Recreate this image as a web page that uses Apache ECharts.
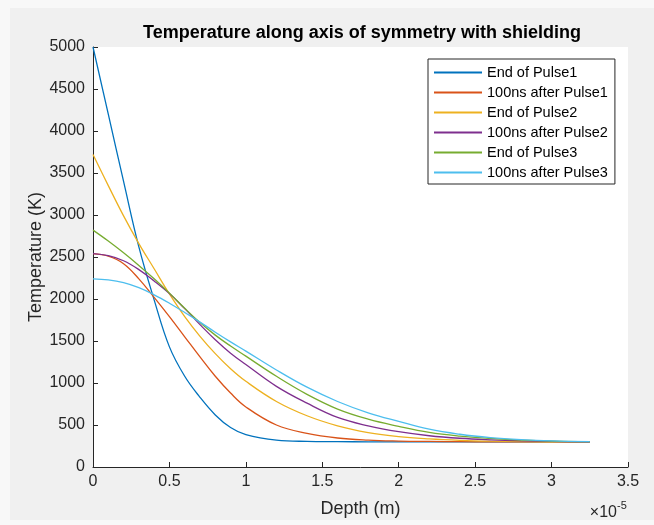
<!DOCTYPE html>
<html>
<head>
<meta charset="utf-8">
<script src="https://cdn.jsdelivr.net/npm/echarts@6/dist/echarts.min.js"></script>
<style>
  html, body { margin: 0; padding: 0; background: #f8f8f8; }
  #chart { width: 654px; height: 525px; }
</style>
</head>
<body>
<div id="chart"></div>
<script>
// depth in units of 1e-5 m
const depth = [0, 0.1, 0.2, 0.3, 0.4, 0.5, 0.6, 0.7, 0.8, 0.9, 1.0, 1.2, 1.4, 1.6, 1.8, 2.0, 2.2, 2.4, 2.6, 2.8, 3.0, 3.25];

const endPulse1 = [5000, 4200, 3400, 2620, 1990, 1430, 1080, 830, 620, 470, 385, 320, 305, 302, 300, 300, 300, 300, 300, 300, 300, 300];
const afterPulse1 = [2540, 2510, 2420, 2240, 2020, 1790, 1550, 1310, 1080, 880, 715, 500, 400, 345, 320, 309, 304, 301, 300, 300, 300, 300];
const endPulse2 = [3720, 3350, 2990, 2660, 2360, 2060, 1790, 1556, 1350, 1170, 1020, 780, 610, 490, 410, 362, 335, 318, 308, 303, 300, 300];
const afterPulse2 = [2540, 2515, 2455, 2350, 2215, 2065, 1885, 1695, 1515, 1355, 1220, 960, 760, 590, 490, 420, 372, 342, 324, 312, 305, 300];
const endPulse3 = [2820, 2690, 2550, 2400, 2240, 2070, 1890, 1720, 1570, 1440, 1320, 1080, 865, 690, 570, 484, 412, 368, 340, 320, 308, 302];
const afterPulse3 = [2240, 2228, 2195, 2135, 2050, 1950, 1840, 1725, 1605, 1490, 1380, 1155, 950, 780, 645, 543, 450, 390, 350, 325, 310, 302];

const seriesNames = ['End of Pulse1', '100ns after Pulse1', 'End of Pulse2', '100ns after Pulse2', 'End of Pulse3', '100ns after Pulse3'];
const seriesValues = [endPulse1, afterPulse1, endPulse2, afterPulse2, endPulse3, afterPulse3];
const colors = ['#0072BD', '#D95319', '#EDB120', '#7E2F8E', '#77AC30', '#4DBEEE'];

const FONT = '"Liberation Sans", Arial, Helvetica, sans-serif';
const INK = '#262626';

const chart = echarts.init(document.getElementById('chart'));

const series = seriesNames.map((name, i) => ({
  name: name,
  type: 'line',
  data: depth.map((d, j) => [d, seriesValues[i][j]]),
  symbol: 'none',
  smooth: 0.4,
  lineStyle: { width: 1.3, color: colors[i] },
  itemStyle: { color: colors[i] },
  emphasis: { disabled: true }
}));

chart.setOption({
  animation: false,
  backgroundColor: '#f8f8f8',
  textStyle: { fontFamily: FONT },
  graphic: [
    { type: 'rect', z: -20, silent: true, shape: { x: 10, y: 8, width: 644, height: 512 }, style: { fill: '#f0f0f0' } },
    { type: 'rect', z: -10, silent: true, shape: { x: 93, y: 47, width: 535, height: 420 }, style: { fill: '#ffffff' } },
    { type: 'text', x: 362, y: 33, style: { text: 'Temperature along axis of symmetry with shielding', font: 'bold 18px ' + FONT, fill: '#000', align: 'center', verticalAlign: 'middle' } },
    { type: 'text', x: 617, y: 513, style: { text: '\u00d710', font: '16px ' + FONT, fill: INK, align: 'right', verticalAlign: 'middle' } },
    { type: 'text', x: 617, y: 506, style: { text: '-5', font: '11px ' + FONT, fill: INK, align: 'left', verticalAlign: 'middle' } }
  ],
  grid: { left: 93, top: 47, width: 535, height: 420, containLabel: false },
  legend: {
    orient: 'vertical',
    left: 428,
    top: 59,
    padding: [6, 7, 4, 5],
    itemWidth: 48,
    itemHeight: 14,
    itemGap: 5,
    itemStyle: { opacity: 0 },
    backgroundColor: '#ffffff',
    borderColor: INK,
    borderWidth: 1,
    borderRadius: 0,
    selectedMode: false,
    textStyle: { fontSize: 14.5, color: '#000', fontFamily: FONT },
    data: seriesNames
  },
  xAxis: {
    type: 'value',
    min: 0,
    max: 3.5,
    interval: 0.5,
    name: 'Depth (m)',
    nameLocation: 'middle',
    nameGap: 33,
    nameTextStyle: { fontSize: 18, color: INK, fontFamily: FONT },
    axisLine: { show: true, onZero: false, lineStyle: { color: INK, width: 1 } },
    axisTick: { show: true, inside: true, length: 5, lineStyle: { color: INK } },
    axisLabel: { fontSize: 16, color: INK, margin: 7, fontFamily: FONT },
    splitLine: { show: false }
  },
  yAxis: {
    type: 'value',
    min: 0,
    max: 5000,
    interval: 500,
    name: 'Temperature (K)',
    nameLocation: 'middle',
    nameGap: 48,
    nameMoveOverlap: false,
    nameTextStyle: { fontSize: 18, color: INK, fontFamily: FONT },
    axisLine: { show: true, lineStyle: { color: INK, width: 1 } },
    axisTick: { show: true, inside: true, length: 5, lineStyle: { color: INK } },
    axisLabel: { fontSize: 16, color: INK, margin: 8, fontFamily: FONT, formatter: v => String(v) },
    splitLine: { show: false }
  },
  series: series
});
</script>
</body>
</html>
